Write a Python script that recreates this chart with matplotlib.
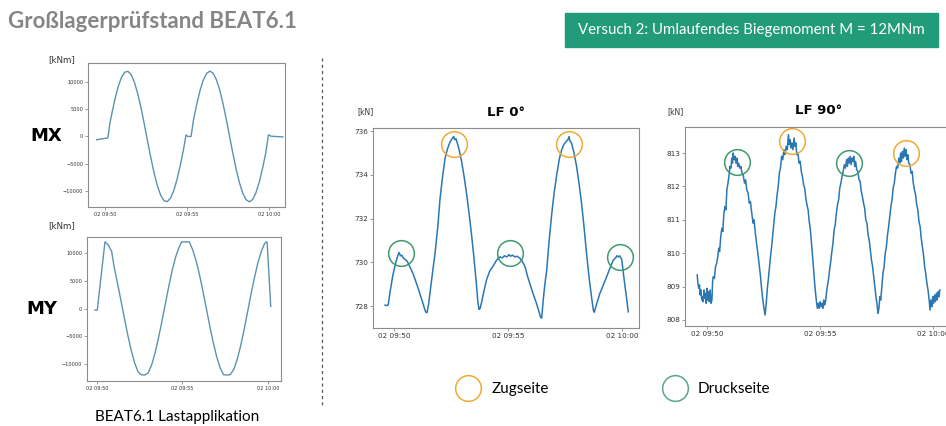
import numpy as np
import matplotlib.pyplot as plt
from matplotlib.patches import Rectangle

W, H = 946, 426

# time axis: minutes after 02 09:50
time_ticks = [0, 5, 10]
time_labels = ['02 09:50', '02 09:55', '02 10:00']

mx_points = [(-0.51, -600), (0.17, -250), (0.3, 2500), (0.4, 4000), (0.6, 6800), (0.8, 9120),
             (1.0, 10830), (1.2, 11800), (1.4, 11960), (1.6, 11310), (1.8, 9890), (2.0, 7790),
             (2.2, 5170), (2.4, 2190), (2.6, -940), (2.8, -4010), (3.0, -6800), (3.2, -9120),
             (3.4, -10830), (3.6, -11800), (3.8, -11960), (4.0, -11310), (4.2, -9890), (4.4, -7790),
             (4.6, -5170), (4.8, -2190), (4.94, 300), (5.05, 0), (5.25, 0), (5.4, 3110), (5.6, 6000),
             (5.8, 8490), (6.0, 10390), (6.2, 11590), (6.4, 12000), (6.6, 11590), (6.8, 10390),
             (7.0, 8490), (7.2, 6000), (7.4, 3110), (7.6, 0), (7.8, -3110), (8.0, -6000), (8.2, -8490),
             (8.4, -10390), (8.6, -11590), (8.8, -12000), (9.0, -11590), (9.2, -10390), (9.4, -8490),
             (9.6, -6000), (9.8, -3110), (9.97, 300), (10.12, 50), (10.85, -80)]

my_points = [(-0.12, -300), (0.02, -300), (0.47, 12000), (0.65, 11500), (0.86, 10300), (1.0, 7600),
             (1.2, 4600), (1.4, 1500), (1.6, -1670), (1.8, -4730), (2.0, -7480), (2.2, -9750),
             (2.4, -11370), (2.6, -11950), (2.8, -11980), (3.0, -11620), (3.2, -10140), (3.4, -7990),
             (3.6, -5300), (3.8, -2290), (4.0, 870), (4.2, 3970), (4.4, 6860), (4.6, 9260),
             (4.8, 11030), (4.95, 12000), (5.4, 12000), (5.6, 10560), (5.8, 8570), (6.0, 6020),
             (6.2, 3070), (6.4, -80), (6.6, -3220), (6.8, -6150), (7.0, -8690), (7.2, -10660),
             (7.4, -11920), (7.6, -11990), (7.8, -11900), (8.0, -10970), (8.2, -9170), (8.4, -6760),
             (8.6, -3850), (8.8, -710), (9.0, 2460), (9.2, 5440), (9.4, 8110), (9.6, 10220),
             (9.8, 11700), (9.9, 12000), (9.95, 11900), (10.16, 400)]

lf0_points = [(-0.39, 728.05), (-0.30, 728.02), (-0.25, 728.06), (-0.18, 728.6), (-0.05, 729.4),
              (0.08, 730.0), (0.18, 730.35), (0.23, 730.45), (0.28, 730.3), (0.35, 730.32),
              (0.41, 730.2), (0.50, 730.12), (0.58, 730.05), (0.63, 729.95), (0.72, 729.75),
              (0.85, 729.45), (0.95, 729.15), (1.05, 728.85), (1.14, 728.55), (1.25, 728.2),
              (1.35, 727.85), (1.40, 727.72), (1.45, 727.7), (1.52, 728.1), (1.58, 728.6),
              (1.70, 729.6), (1.80, 730.4), (1.92, 731.6), (2.02, 732.9), (2.13, 733.9),
              (2.24, 734.75), (2.35, 735.2), (2.46, 735.5), (2.52, 735.6), (2.58, 735.7),
              (2.62, 735.75), (2.67, 735.6), (2.72, 735.65), (2.78, 735.45), (2.87, 735.1),
              (2.97, 734.6), (3.08, 733.9), (3.19, 733.1), (3.30, 732.2), (3.41, 731.2),
              (3.50, 730.3), (3.60, 729.2), (3.68, 728.2), (3.73, 727.85), (3.78, 727.9),
              (3.85, 728.2), (3.95, 728.7), (4.06, 729.2), (4.20, 729.6), (4.36, 729.85),
              (4.50, 730.1), (4.65, 730.25), (4.75, 730.2), (4.85, 730.3), (4.95, 730.25),
              (5.05, 730.35), (5.12, 730.28), (5.20, 730.33), (5.30, 730.25), (5.40, 730.28),
              (5.53, 730.18), (5.60, 730.1), (5.68, 729.95), (5.75, 729.8), (5.85, 729.4),
              (5.96, 729.04), (6.06, 728.7), (6.16, 728.4), (6.26, 728.1), (6.36, 727.75),
              (6.43, 727.5), (6.48, 727.45), (6.55, 728.3), (6.62, 729.0), (6.70, 729.64),
              (6.80, 730.9), (6.92, 732.2), (7.03, 733.2), (7.14, 734.0), (7.25, 734.7),
              (7.36, 735.15), (7.46, 735.4), (7.58, 735.55), (7.63, 735.6), (7.68, 735.75),
              (7.72, 735.55), (7.79, 735.45), (7.90, 735.0), (8.01, 734.4), (8.12, 733.6),
              (8.23, 732.7), (8.34, 731.6), (8.45, 730.4), (8.56, 729.3), (8.67, 728.4),
              (8.75, 727.8), (8.79, 727.72), (8.85, 727.95), (8.95, 728.3), (9.04, 728.6),
              (9.18, 728.95), (9.33, 729.34), (9.48, 729.75), (9.62, 730.1), (9.72, 730.2),
              (9.78, 730.3), (9.84, 730.25), (9.90, 730.3), (9.95, 730.2), (9.99, 730.15),
              (10.10, 729.2), (10.20, 728.4), (10.28, 727.74)]

lf90_points = [(-0.43, 809.35), (-0.40, 809.1), (-0.36, 808.95), (-0.33, 809.05), (-0.30, 808.75),
               (-0.27, 808.9), (-0.23, 808.6), (-0.20, 808.7), (-0.17, 808.55), (-0.13, 808.9),
               (-0.10, 808.65), (-0.06, 808.8), (-0.03, 808.5), (0.00, 808.95), (0.03, 808.6),
               (0.07, 808.85), (0.10, 808.55), (0.14, 808.9), (0.18, 808.5), (0.22, 808.6),
               (0.25, 809.15), (0.28, 809.3), (0.33, 809.25), (0.38, 809.6), (0.43, 809.7),
               (0.48, 809.9), (0.52, 810.15), (0.56, 810.05), (0.61, 810.5), (0.66, 810.75),
               (0.70, 810.65), (0.75, 811.2), (0.80, 811.4), (0.84, 811.3), (0.88, 811.9),
               (0.93, 812.1), (0.98, 812.35), (1.02, 812.6), (1.06, 812.55), (1.10, 812.85),
               (1.13, 812.7), (1.16, 813.0), (1.20, 812.8), (1.24, 812.9), (1.28, 812.7),
               (1.32, 812.85), (1.36, 812.6), (1.40, 812.7), (1.45, 812.55), (1.50, 812.6),
               (1.55, 812.4), (1.60, 812.35), (1.66, 812.1), (1.71, 812.2), (1.76, 811.9),
               (1.82, 811.8), (1.87, 811.5), (1.92, 811.55), (1.98, 811.2), (2.04, 810.9),
               (2.08, 811.0), (2.14, 810.6), (2.20, 810.25), (2.25, 810.0), (2.30, 809.7),
               (2.36, 809.35), (2.42, 808.9), (2.47, 808.6), (2.52, 808.35), (2.57, 808.15),
               (2.62, 808.5), (2.67, 808.95), (2.71, 809.2), (2.76, 809.55), (2.81, 809.9),
               (2.86, 810.2), (2.91, 810.55), (2.95, 810.8), (3.00, 811.2), (3.05, 811.4),
               (3.10, 811.75), (3.15, 812.0), (3.20, 812.4), (3.25, 812.55), (3.30, 812.9),
               (3.35, 812.8), (3.40, 813.1), (3.45, 812.95), (3.50, 813.2), (3.55, 813.1),
               (3.60, 813.55), (3.64, 813.25), (3.68, 813.4), (3.72, 813.15), (3.76, 813.3),
               (3.80, 813.1), (3.85, 813.45), (3.89, 813.2), (3.93, 813.3), (3.97, 812.95),
               (4.02, 813.0), (4.07, 812.7), (4.12, 812.75), (4.17, 812.45), (4.22, 812.3),
               (4.27, 812.05), (4.32, 811.95), (4.37, 811.65), (4.42, 811.45), (4.47, 811.3),
               (4.52, 810.95), (4.57, 810.7), (4.62, 810.3), (4.67, 809.9), (4.72, 809.45),
               (4.76, 809.1), (4.80, 808.8), (4.84, 808.55), (4.88, 808.35), (4.92, 808.5),
               (4.96, 808.35), (5.00, 808.55), (5.04, 808.4), (5.08, 808.5), (5.12, 808.35),
               (5.16, 808.6), (5.20, 808.45), (5.24, 808.55), (5.28, 808.8), (5.32, 809.0),
               (5.37, 809.2), (5.42, 809.5), (5.47, 809.75), (5.52, 810.05), (5.57, 810.3),
               (5.62, 810.7), (5.67, 810.85), (5.72, 811.2), (5.77, 811.45), (5.82, 811.6),
               (5.87, 811.95), (5.92, 812.1), (5.97, 812.3), (6.02, 812.45), (6.07, 812.65),
               (6.12, 812.55), (6.17, 812.8), (6.21, 812.6), (6.25, 812.85), (6.29, 812.7),
               (6.33, 812.9), (6.37, 812.65), (6.41, 812.85), (6.45, 812.75), (6.49, 812.9),
               (6.53, 812.6), (6.57, 812.75), (6.62, 812.5), (6.67, 812.45), (6.72, 812.2),
               (6.77, 812.15), (6.82, 811.85), (6.87, 811.7), (6.92, 811.5), (6.97, 811.35),
               (7.02, 811.0), (7.07, 810.9), (7.12, 810.55), (7.17, 810.4), (7.22, 810.1),
               (7.27, 809.8), (7.32, 809.6), (7.37, 809.3), (7.42, 809.0), (7.47, 808.7),
               (7.52, 808.45), (7.56, 808.2), (7.60, 808.35), (7.64, 808.7), (7.68, 808.6),
               (7.73, 809.0), (7.78, 809.4), (7.83, 809.6), (7.88, 810.0), (7.93, 810.2),
               (7.98, 810.55), (8.03, 810.8), (8.08, 811.1), (8.13, 811.4), (8.18, 811.6),
               (8.23, 811.95), (8.28, 812.1), (8.33, 812.4), (8.38, 812.6), (8.43, 812.55),
               (8.48, 812.85), (8.52, 812.7), (8.56, 813.0), (8.60, 812.75), (8.64, 813.05),
               (8.68, 812.85), (8.72, 813.15), (8.76, 812.9), (8.80, 813.1), (8.84, 812.8),
               (8.88, 812.95), (8.92, 812.7), (8.97, 812.65), (9.02, 812.4), (9.07, 812.45),
               (9.12, 812.1), (9.17, 811.9), (9.22, 811.75), (9.27, 811.45), (9.32, 811.3),
               (9.37, 810.95), (9.42, 810.8), (9.47, 810.45), (9.52, 810.2), (9.57, 809.95),
               (9.62, 809.6), (9.67, 809.4), (9.72, 809.1), (9.77, 808.9), (9.82, 808.6),
               (9.86, 808.3), (9.90, 808.6), (9.94, 808.4), (9.98, 808.7), (10.02, 808.5),
               (10.06, 808.75), (10.10, 808.55), (10.14, 808.8), (10.18, 808.6), (10.22, 808.85),
               (10.26, 808.7), (10.29, 808.9)]

# marked extremes (Zugseite = tension side, Druckseite = compression side)
lf0_zug = [(2.63, 735.4), (7.68, 735.4)]
lf0_druck = [(0.31, 730.45), (5.09, 730.41), (9.91, 730.25)]
lf90_zug = [(3.76, 813.36), (8.81, 813.0)]
lf90_druck = [(1.33, 812.73), (6.28, 812.7)]

orange = '#eeaa35'
green = '#3f9b6d'
left_blue = '#5b93b0'
right_blue = '#2a77b4'


def px_box(l, t, r, b):
    return [l / W, 1 - b / H, (r - l) / W, (b - t) / H]


def style(ax, fs):
    for s in ax.spines.values():
        s.set_color('#8c8c8c')
        s.set_linewidth(0.8)
    ax.tick_params(labelsize=fs, length=2, width=0.6, color='#8c8c8c',
                   labelcolor='#333333', pad=1.5)
    ax.set_xticks(time_ticks)
    ax.set_xticklabels(time_labels)


fig = plt.figure(figsize=(W / 100, H / 100), dpi=100)

# slide background layer in pixel coordinates
bg = fig.add_axes([0, 0, 1, 1])
bg.set_xlim(0, W)
bg.set_ylim(H, 0)
bg.axis('off')

bg.text(8, 22, 'Großlagerprüfstand BEAT6.1', family='Lato', fontweight='bold',
        fontsize=16, color='#858585', va='center', ha='left')
bg.add_patch(Rectangle((565, 13), 373, 34, color='#219b7a'))
bg.text(751, 30, 'Versuch 2: Umlaufendes Biegemoment M = 12MNm', family='Lato',
        fontsize=10.8, color='white', va='center', ha='center')
bg.plot([322, 322], [58, 405], ls=(0, (2.5, 2.5)), color='#555555', lw=0.9)

bg.text(46, 136, 'MX', fontweight='bold', fontsize=13, ha='center', va='center')
bg.text(42, 309, 'MY', fontweight='bold', fontsize=13, ha='center', va='center')
bg.text(62, 60, '[kNm]', fontsize=6.3, color='#333333', ha='center', va='center')
bg.text(62, 226, '[kNm]', fontsize=6.3, color='#333333', ha='center', va='center')
bg.text(177, 417, 'BEAT6.1 Lastapplikation', family='Lato', fontsize=11,
        ha='center', va='center')
bg.text(365, 112, '[kN]', fontsize=5.5, color='#333333', ha='center', va='center')
bg.text(675, 112, '[kN]', fontsize=5.5, color='#333333', ha='center', va='center')

bg.plot([468], [388], 'o', ms=18.5, mfc='none', mec=orange, mew=1.1)
bg.text(492, 389, 'Zugseite', family='Lato', fontsize=11, ha='left', va='center')
bg.plot([675], [388], 'o', ms=18.5, mfc='none', mec='#5aa58a', mew=1.1)
bg.text(698, 389, 'Druckseite', family='Lato', fontsize=11, ha='left', va='center')

# MX
ax = fig.add_axes(px_box(88, 63, 285, 207))
t, v = np.array(mx_points).T
ax.plot(t, v, color=left_blue, lw=1)
ax.set_xlim(-1.04, 10.98)
ax.set_ylim(-12950, 13490)
ax.set_yticks([-10000, -5000, 0, 5000, 10000])
style(ax, 3.6)

# MY
ax = fig.add_axes(px_box(87, 237, 281, 381))
t, v = np.array(my_points).T
ax.plot(t, v, color=left_blue, lw=1)
ax.set_xlim(-0.58, 10.76)
ax.set_ylim(-13060, 12880)
ax.set_yticks([-10000, -5000, 0, 5000, 10000])
style(ax, 3.6)

# LF 0°
ax = fig.add_axes(px_box(373, 128, 639, 328))
t, v = np.array(lf0_points).T
ax.plot(t, v, color=right_blue, lw=1.1)
for pts, c in [(lf0_zug, orange), (lf0_druck, green)]:
    ct, cv = np.array(pts).T
    ax.plot(ct, cv, 'o', ms=18.5, mfc='none', mec=c, mew=1.1, clip_on=False)
ax.set_xlim(-0.92, 10.75)
ax.set_ylim(727.0, 736.14)
ax.set_yticks([728, 730, 732, 734, 736])
ax.set_title('LF 0°', fontweight='bold', fontsize=9.5, pad=9)
style(ax, 5.2)

# LF 90°
ax = fig.add_axes(px_box(685, 127, 952, 326))
t, v = np.array(lf90_points).T
ax.plot(t, v, color=right_blue, lw=1.1)
for pts, c in [(lf90_zug, orange), (lf90_druck, green)]:
    ct, cv = np.array(pts).T
    ax.plot(ct, cv, 'o', ms=18.5, mfc='none', mec=c, mew=1.1, clip_on=False)
ax.set_xlim(-0.97, 10.83)
ax.set_ylim(807.82, 813.78)
ax.set_yticks([808, 809, 810, 811, 812, 813])
ax.set_title('LF 90°', fontweight='bold', fontsize=9.5, pad=9)
style(ax, 5.2)

fig.savefig('out.png', dpi=100)
